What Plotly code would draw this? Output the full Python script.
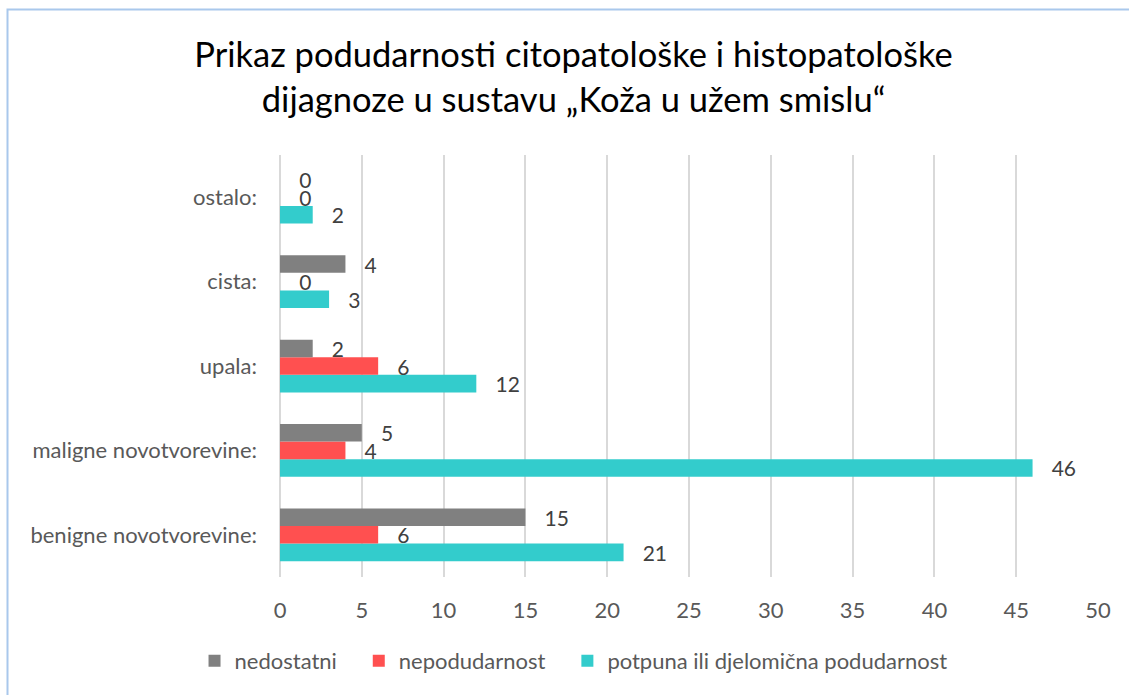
import plotly.graph_objects as go

categories = ["benigne novotvorevine:", "maligne novotvorevine:", "upala:", "cista:", "ostalo:"]
nedostatni = [15, 5, 2, 4, 0]
nepodudarnost = [6, 4, 6, 0, 0]
potpuna = [21, 46, 12, 3, 2]
x_ticks = [0, 5, 10, 15, 20, 25, 30, 35, 40, 45, 50]

FONT = "Lato, 'Open Sans', sans-serif"
label_font = dict(family=FONT, size=21, color="#404040")
SP = "\u00a0\u00a0\u00a0"

series = [
    ("potpuna ili djelomična podudarnost", "potpuna ili djelomična podudarnost", potpuna, "#33CCCC", 3),
    ("nepodudarnost", "nepodudarnost" + SP, nepodudarnost, "#FF5050", 2),
    ("nedostatni", "nedostatni" + SP, nedostatni, "#808080", 1),
]

fig = go.Figure()
for name, shown, vals, color, rank in series:
    fig.add_trace(go.Bar(
        y=categories, x=vals, name=shown, orientation="h",
        marker=dict(color=color, line=dict(width=0)),
        text=vals, texttemplate="\u00a0\u00a0\u00a0%{x}",
        textposition="outside", textfont=label_font,
        constraintext="none", cliponaxis=False,
        legendrank=rank, hoverinfo="skip",
    ))

W, H = 1129, 695
L, R, T, B = 280, 31, 155, 118
pw, ph = W - L - R, H - T - B

def px(xp):
    return (xp - L) / pw

def py(yp):
    return (H - B - yp) / ph

fig.add_shape(type="rect", xref="paper", yref="paper",
              x0=px(7.5), x1=px(1140), y0=py(705), y1=py(9.5),
              line=dict(color="#A9C8EC", width=2), fillcolor="rgba(0,0,0,0)", layer="below")

fig.update_layout(
    width=W, height=H,
    margin=dict(l=L, r=R, t=T, b=B),
    paper_bgcolor="white", plot_bgcolor="white",
    barmode="group", bargap=0.375, bargroupgap=0,
    title=dict(
        text="Prikaz podudarnosti citopatološke i histopatološke<br>dijagnoze u sustavu „Koža u užem smislu“",
        font=dict(family=FONT, size=34.5, color="#000000"),
        x=0.508, xanchor="center", xref="container",
        y=1 - 67 / H, yanchor="middle", yref="container",
    ),
    xaxis=dict(
        range=[0, 50], tickvals=x_ticks, showgrid=True, gridcolor="#D9D9D9", gridwidth=1.5,
        zeroline=True, zerolinecolor="#D9D9D9", zerolinewidth=1.5, showline=False,
        tickfont=dict(family=FONT, size=22, color="#595959"), ticks="", ticklabelstandoff=18,
    ),
    yaxis=dict(
        showgrid=False, zeroline=False, showline=False, ticks="",
        tickfont=dict(family=FONT, size=22, color="#595959"), ticklabelstandoff=22,
    ),
    legend=dict(
        orientation="h", xref="container", x=0.508, xanchor="center",
        yref="container", y=1 - 661 / H, yanchor="middle",
        font=dict(family=FONT, size=22, color="#595959"),
        traceorder="normal", itemwidth=30,
    ),
)

fig.write_html("out.html", config={"displayModeBar": False},
               post_script="document.body.style.margin='0px';")
